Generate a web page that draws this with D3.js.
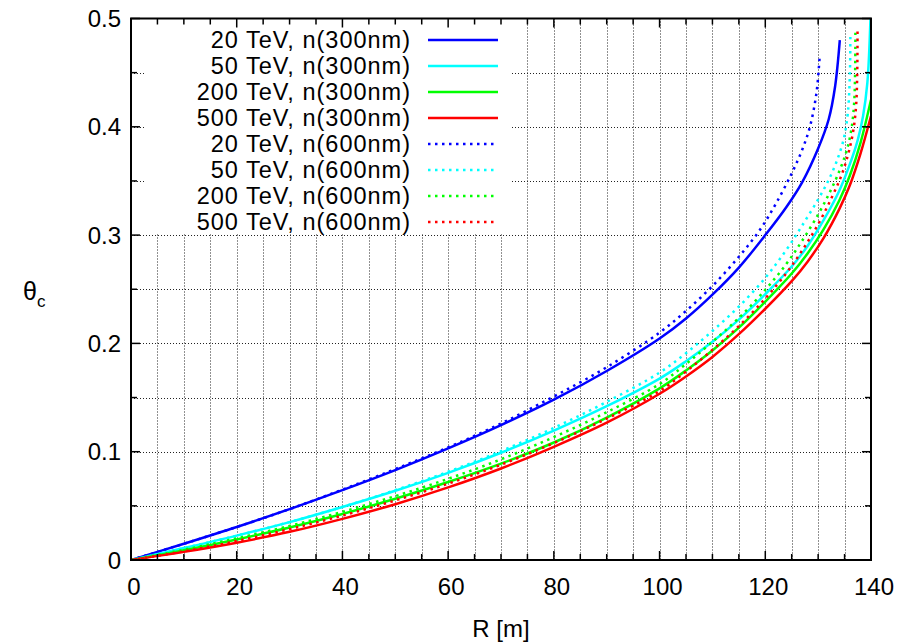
<!DOCTYPE html>
<html><head><meta charset="utf-8">
<script src="https://cdn.jsdelivr.net/npm/d3@7"></script>
<style>body{margin:0;background:#fff} svg{display:block} text{font-family:"Liberation Sans",Arial,Helvetica,sans-serif;fill:#000}</style>
</head><body><svg id="c" width="900" height="644"></svg>
<script>
// ---- data ----
const xTicks = [0,20,40,60,80,100,120,140];
const yTicks = [0,0.1,0.2,0.3,0.4,0.5];
const legendLabels = ["20 TeV, n(300nm)","50 TeV, n(300nm)","200 TeV, n(300nm)","500 TeV, n(300nm)",
                      "20 TeV, n(600nm)","50 TeV, n(600nm)","200 TeV, n(600nm)","500 TeV, n(600nm)"];
const seriesColors = ["#0000ff","#00ffff","#00ff00","#ff0000","#0000ff","#00ffff","#00ff00","#ff0000"];
const seriesDotted = [false,false,false,false,true,true,true,true];

const R_20_300  = [0,10,20,30,40,50,60,70,80,90,100,105,110,115,120,124,127,130,132,133.2,134.1];
const T_20_300  = [0,0.015,0.0305,0.047,0.0645,0.083,0.103,0.1245,0.148,0.1745,0.2045,0.223,0.245,0.270,0.300,0.326,0.349,0.380,0.407,0.437,0.480];
const R_50_300  = [0,10,20,30,40,50,60,70,80,90,100,105,110,115,120,125,128,131,134,136,137.5,138.5,139.3,139.9];
const T_50_300  = [0,0.011,0.0225,0.035,0.049,0.064,0.0805,0.099,0.1195,0.142,0.1675,0.1835,0.2015,0.222,0.2455,0.271,0.290,0.3135,0.341,0.3655,0.388,0.410,0.440,0.500];
const R_200_300 = [0,10,20,30,40,50,60,70,80,90,100,105,110,115,120,125,128,131,134,136,138,140];
const T_200_300 = [0,0.009,0.019,0.030,0.0425,0.0565,0.072,0.089,0.1085,0.1315,0.1585,0.175,0.1935,0.2145,0.2385,0.2645,0.283,0.305,0.332,0.355,0.385,0.425];
const R_500_300 = [0,10,20,30,40,50,60,70,80,90,100,105,110,115,120,125,128,131,134,136,138,140];
const T_500_300 = [0,0.0075,0.016,0.026,0.038,0.0515,0.067,0.0845,0.1045,0.1268,0.1535,0.1695,0.1875,0.2085,0.232,0.2575,0.2755,0.297,0.324,0.346,0.375,0.410];
const R_20_600  = [0,10,20,30,40,50,60,70,80,90,100,105,110,115,119,122,125,127,128.5,129.7,130.3];
const T_20_600  = [0,0.015,0.0305,0.047,0.065,0.084,0.104,0.126,0.151,0.178,0.210,0.230,0.253,0.280,0.305,0.329,0.357,0.379,0.401,0.432,0.466];
const R_50_600  = [0,10,20,30,40,50,60,70,80,90,100,105,110,115,120,124,127,130,132,133.5,134.8,135.6,136.0,136.1];
const T_50_600  = [0,0.011,0.0225,0.035,0.049,0.0645,0.0815,0.1005,0.122,0.146,0.173,0.191,0.2115,0.234,0.2605,0.2865,0.309,0.333,0.351,0.368,0.388,0.412,0.448,0.487];
const R_200_600 = [0,10,20,30,40,50,60,70,80,90,100,105,110,115,120,124,127,130,132.2,134,135.4,136.3,136.8,137.0,137.05];
const T_200_600 = [0,0.0095,0.020,0.0315,0.0445,0.059,0.075,0.093,0.1135,0.1365,0.1625,0.181,0.2015,0.2235,0.2495,0.2735,0.295,0.319,0.3395,0.359,0.378,0.398,0.421,0.452,0.488];
const R_500_600 = [0,10,20,30,40,50,60,70,80,90,100,105,110,115,120,124,127,130,132.5,134.4,135.8,136.7,137.2,137.4,137.45];
const T_500_600 = [0,0.008,0.0175,0.0285,0.041,0.055,0.0705,0.088,0.108,0.1305,0.156,0.174,0.194,0.216,0.2415,0.265,0.286,0.310,0.334,0.355,0.377,0.398,0.421,0.452,0.488];

const seriesR = [R_20_300,R_50_300,R_200_300,R_500_300,R_20_600,R_50_600,R_200_600,R_500_600];
const seriesT = [T_20_300,T_50_300,T_200_300,T_500_300,T_20_600,T_50_600,T_200_600,T_500_600];

// ---- layout ----
const L = 131, Rt = 871, T = 18.5, B = 560;
const x = d3.scaleLinear().domain([0,140]).range([L,Rt]);
const y = d3.scaleLinear().domain([0,0.5]).range([B,T]);
const svg = d3.select("#c");

svg.append("defs").append("clipPath").attr("id","clip")
  .append("rect").attr("x",L).attr("y",T).attr("width",Rt-L).attr("height",B-T);

// grid
const gx = d3.range(5,140,5), gy = d3.range(1,10).map(i=>i*0.05);
const grid = svg.append("g").attr("stroke","#222").attr("stroke-width",1).attr("stroke-dasharray","1,2");
grid.selectAll(".gv").data(gx).join("line").attr("x1",d=>Math.round(x(d))+0.5).attr("x2",d=>Math.round(x(d))+0.5).attr("y1",T).attr("y2",B);
grid.selectAll(".gh").data(gy).join("line").attr("y1",d=>Math.round(y(d))+0.5).attr("y2",d=>Math.round(y(d))+0.5).attr("x1",L).attr("x2",Rt);

// legend box (opaque)
svg.append("rect").attr("x",144).attr("y",T).attr("width",368).attr("height",233-T).attr("fill","#fff");

// curves
const line = d3.line().curve(d3.curveCatmullRom.alpha(0.5));
const cg = svg.append("g").attr("clip-path","url(#clip)").attr("fill","none");
seriesR.forEach((Rs,i)=>{
  const pts = Rs.map((r,j)=>[x(r), y(seriesT[i][j])]);
  cg.append("path").attr("d",line(pts)).attr("stroke",seriesColors[i])
    .attr("stroke-width",2.5).attr("stroke-dasharray",seriesDotted[i]?"2.5,4.5":null);
});

// legend
const lg = svg.append("g");
legendLabels.forEach((lab,i)=>{
  const cy = 40 + i*26;
  lg.append("text").attr("x",411).attr("y",cy).attr("dy","0.36em").attr("text-anchor","end")
    .attr("font-size",23.5).attr("letter-spacing",1.0).text(lab);
  lg.append("line").attr("x1",428).attr("x2",498).attr("y1",cy).attr("y2",cy)
    .attr("stroke",seriesColors[i]).attr("stroke-width",2.5).attr("stroke-dasharray",seriesDotted[i]?"2.5,4.5":null);
});

// ticks (inward, all sides)
const ax = svg.append("g").attr("stroke","#000").attr("stroke-width",1.5);
gx.concat([0,140]).forEach(v=>{
  const len = (v%20===0)?9:6; const px = x(v);
  ax.append("line").attr("x1",px).attr("x2",px).attr("y1",B).attr("y2",B-len);
  ax.append("line").attr("x1",px).attr("x2",px).attr("y1",T).attr("y2",T+len);
});
gy.concat([0,0.5]).forEach(v=>{
  const major = Math.abs(v*10-Math.round(v*10))<1e-6; const len = major?9:6; const py = y(v);
  ax.append("line").attr("y1",py).attr("y2",py).attr("x1",L).attr("x2",L+len);
  ax.append("line").attr("y1",py).attr("y2",py).attr("x1",Rt).attr("x2",Rt-len);
});
// border
svg.append("rect").attr("x",L).attr("y",T).attr("width",Rt-L).attr("height",B-T)
  .attr("fill","none").attr("stroke","#000").attr("stroke-width",2);

// tick labels
svg.append("g").selectAll("text").data(xTicks).join("text")
  .attr("x",d=>x(d)+3).attr("y",595).attr("text-anchor","middle").attr("font-size",24).text(d=>d);
svg.append("g").selectAll("text").data(yTicks).join("text")
  .attr("x",121).attr("y",d=>y(d)).attr("dy","0.36em").attr("text-anchor","end").attr("font-size",24)
  .text(d=>d===0?"0":d3.format(".1f")(d));

// axis titles
svg.append("text").attr("x",(L+Rt)/2).attr("y",637).attr("text-anchor","middle").attr("font-size",24).text("R [m]");
const yt = svg.append("text").attr("x",23).attr("y",300).attr("font-size",25);
yt.append("tspan").text("θ");
yt.append("tspan").attr("font-size",17).attr("dy",7).text("c");
</script></body></html>
